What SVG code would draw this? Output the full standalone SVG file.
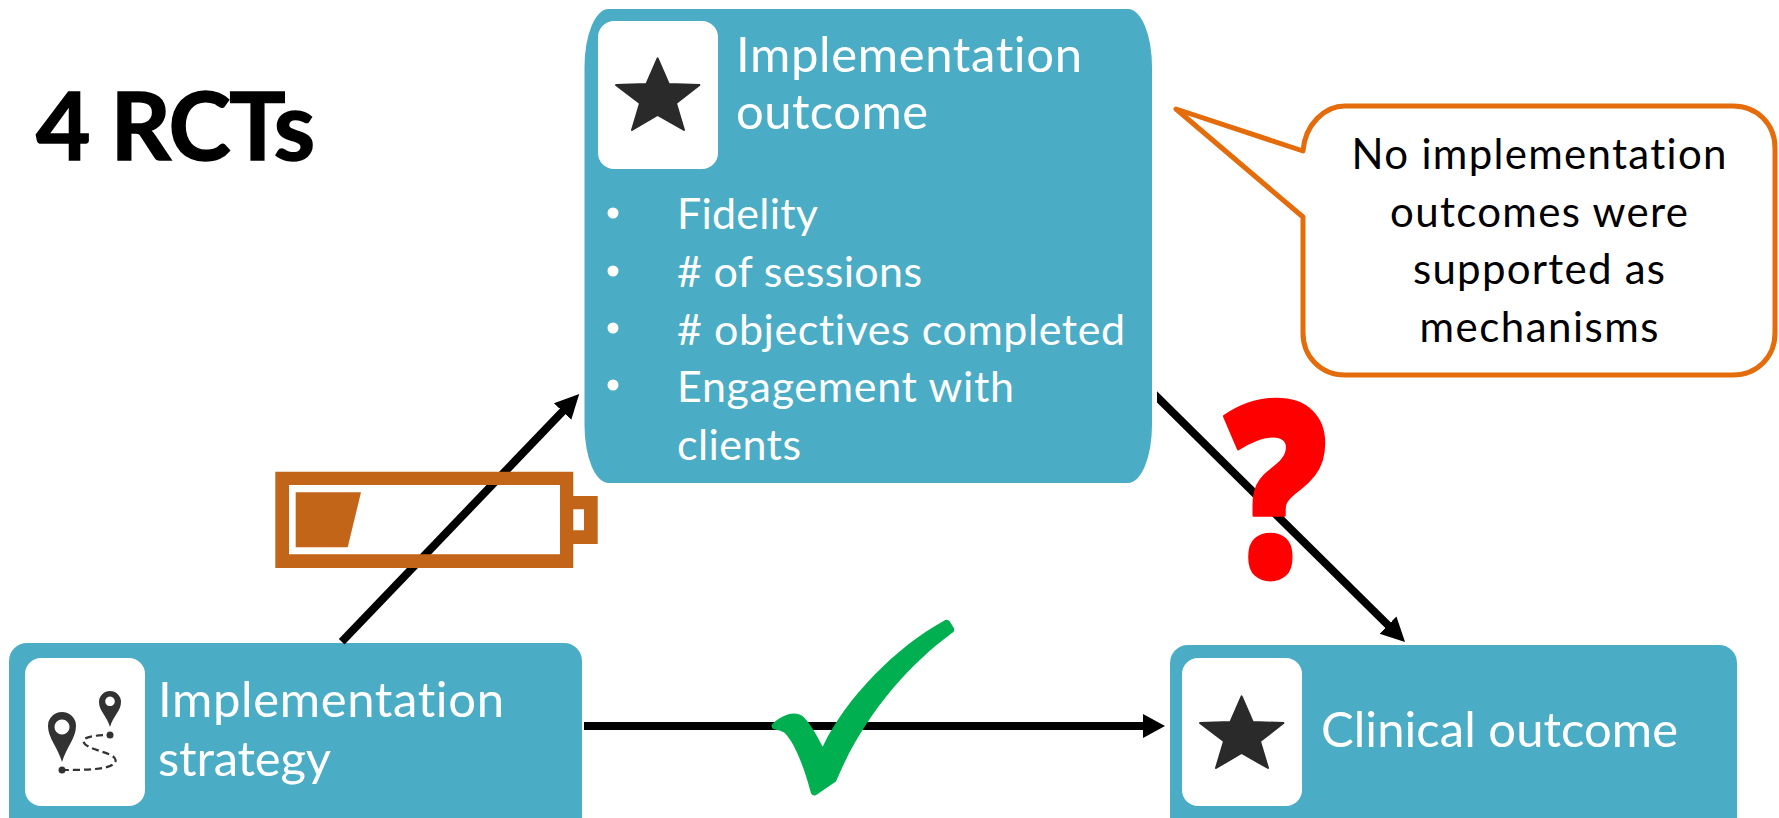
<svg xmlns="http://www.w3.org/2000/svg" width="1779" height="818" viewBox="0 0 1779 818">
<style>
text{font-variant-ligatures:none}
.node{fill:#4bacc6}
.icon{fill:#fff}
.star{fill:#2b2a2b;stroke:#2b2a2b;stroke-width:2;stroke-linejoin:round}
.pin{fill:#333233}
.wt{font-family:"Lato","Noto Sans",sans-serif;fill:#fff;font-size:49px}
.wb{font-family:"Lato","Noto Sans",sans-serif;fill:#fff;font-size:43px}
.bt{font-family:"Lato","Noto Sans",sans-serif;fill:#000;font-size:42px;text-anchor:middle}
.arrow{stroke:#000;stroke-width:8;fill:none}
.bat{fill:#c26519}
</style>
<defs>
<marker id="head" markerUnits="userSpaceOnUse" markerWidth="24" markerHeight="28" refX="2" refY="14" orient="auto">
<path d="M0 2L22 14L0 26Z" fill="#000"/>
</marker>
<marker id="head-long" markerUnits="userSpaceOnUse" markerWidth="26" markerHeight="28" refX="2" refY="14" orient="auto">
<path d="M0 2L24 14L0 26Z" fill="#000"/>
</marker>
<clipPath id="tail"><rect x="1157" y="380" width="280" height="280"/></clipPath>
<polygon id="star" class="star" points="657.6,58.3 668.7,84 699.4,85 676,103.3 684,130 657.6,115 632,130 640,103.3 616,85 646.5,84"/>
</defs>
<rect width="1779" height="818" fill="#fff"/>
<text x="36" y="160" font-family="Lato,'Noto Sans',sans-serif" font-weight="700" font-size="94" fill="#000" stroke="#000" stroke-width="1.500" textLength="279" lengthAdjust="spacing">4 RCTs</text>
<g id="node-strategy">
<rect class="node" x="9" y="643" width="573" height="195" rx="18" ry="18"/>
<rect class="icon" x="25" y="658" width="120" height="148" rx="16" ry="16"/>
<path class="pin" fill-rule="evenodd" d="M62 762C58 748 48 738 48 726A14 14 0 0 1 76 726C76 738 66 748 62 762ZM62 719.500a7.500 7.500 0 1 0 .01 0Z"/>
<path class="pin" fill-rule="evenodd" d="M110 727C107 716 99 711 99 702A11 11 0 0 1 121 702C121 711 113 716 110 727ZM110 696.500a4.800 4.800 0 1 0 .01 0Z"/>
<circle class="pin" cx="62" cy="770" r="3.500"/>
<circle class="pin" cx="110" cy="735" r="3.500"/>
<path d="M62 770C85 770 116 770 115.600 760C115 752 84 750 83.500 741C83.500 736 100 735 110 735" fill="none" stroke="#333233" stroke-width="2.200" stroke-dasharray="7 4"/>
<text class="wt" x="158" y="717" textLength="346" lengthAdjust="spacing">Implementation</text>
<text class="wt" x="158" y="776" textLength="173" lengthAdjust="spacing">strategy</text>
</g>
<g id="node-implementation">
<rect class="node" x="584.500" y="9" width="567.500" height="474" rx="24" ry="58"/>
<rect class="icon" x="598" y="21" width="120" height="148" rx="16" ry="16"/>
<use href="#star"/>
<text class="wt" x="736" y="72" textLength="346" lengthAdjust="spacing">Implementation</text>
<text class="wt" x="736" y="129" textLength="192" lengthAdjust="spacing">outcome</text>
<circle class="icon" cx="613" cy="213" r="5.500"/>
<circle class="icon" cx="613" cy="271" r="5.500"/>
<circle class="icon" cx="613" cy="328" r="5.500"/>
<circle class="icon" cx="613" cy="385" r="5.500"/>
<text class="wb" x="677" y="229" textLength="141" lengthAdjust="spacing">Fidelity</text>
<text class="wb" x="677" y="287" textLength="245" lengthAdjust="spacing"># of sessions</text>
<text class="wb" x="677" y="345" textLength="448" lengthAdjust="spacing"># objectives completed</text>
<text class="wb" x="677" y="402" textLength="337" lengthAdjust="spacing">Engagement with</text>
<text class="wb" x="677" y="460" textLength="124" lengthAdjust="spacing">clients</text>
</g>
<g id="node-clinical">
<rect class="node" x="1170" y="645" width="567" height="193" rx="18" ry="18"/>
<rect class="icon" x="1182" y="658" width="120" height="148" rx="16" ry="16"/>
<use href="#star" transform="translate(584 638)"/>
<text class="wt" x="1321" y="747" textLength="357" lengthAdjust="spacing">Clinical outcome</text>
</g>
<g id="connectors">
<path class="arrow" d="M341.700 641.700L564 410" marker-end="url(#head-long)"/>
<path class="arrow" d="M584 726H1145" marker-end="url(#head)"/>
<g clip-path="url(#tail)"><path class="arrow" d="M1152 392L1389.400 626.500" marker-end="url(#head-long)"/></g>
</g>
<g id="battery">
<path class="bat" fill-rule="evenodd" d="M275.300 471.700H573.300V496H597.700V544H573.300V568H275.300ZM289 485V554.300H560V485ZM573.300 509.300V530.300H584V509.300Z"/>
<polygon class="bat" points="295.700,492.300 361,492.300 347.700,547.300 295.700,547.300"/>
</g>
<g id="check">
<path transform="translate(740 600) scale(.3333)" fill="#00b050" d="M97 372C125 345 165 330 190 350C215 375 235 415 248 440C320 290 470 140 612 62Q622 55 630 65L642 85Q645 95 635 100C500 200 370 350 290 540Q287 548 280 550L232 583Q220 592 213 580C195 510 165 430 135 400C125 390 105 392 97 385Q92 378 97 372Z"/>
</g>
<g id="question">
<text transform="translate(1276 577) scale(.84 1)" font-family="'Open Sans',sans-serif" font-weight="800" font-size="244" fill="#f00" stroke="#f00" stroke-width="3" stroke-linejoin="round" text-anchor="middle">?</text>
</g>
<g id="callout">
<path d="M1176 109L1303 151C1305 124 1325 106 1345 106H1733C1757 106 1775 124 1775 148V333C1775 357 1757 375 1733 375H1345C1321 375 1303 357 1303 333V217Z" fill="#fff" stroke="#e46c0a" stroke-width="5" stroke-linejoin="round"/>
<text class="bt" x="1539" y="169" textLength="375" lengthAdjust="spacing">No implementation</text>
<text class="bt" x="1539" y="227" textLength="298" lengthAdjust="spacing">outcomes were</text>
<text class="bt" x="1539" y="284" textLength="252" lengthAdjust="spacing">supported as</text>
<text class="bt" x="1539" y="342" textLength="239" lengthAdjust="spacing">mechanisms</text>
</g>
</svg>
